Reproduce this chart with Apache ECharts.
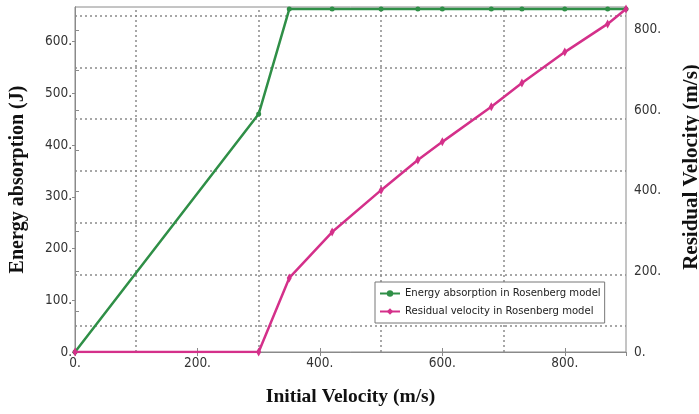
<!DOCTYPE html>
<html>
<head>
<meta charset="utf-8">
<script src="https://cdn.jsdelivr.net/npm/echarts@6/dist/echarts.min.js"></script>
<style>
  html, body { margin: 0; padding: 0; background: #fff; }
  #chart { width: 699px; height: 414px; }
</style>
</head>
<body>
<div id="chart"></div>
<script>
// 数据
var velocity = [0, 300, 350, 420, 500, 560, 600, 680, 730, 800, 870, 900];
var energy = [0, 460, 663, 663, 663, 663, 663, 663, 663, 663, 663, 663];
var residual = [0, 0, 184, 298, 402, 477, 522, 609, 668, 745, 815, 852];
var gridX = [100, 300, 500, 700];
var gridY = [50, 150, 250, 350, 450, 550, 650];

(function () {
    var myChart = echarts.init(document.getElementById("chart"));

    var tickFont = "'Liberation Sans Narrow', 'DejaVu Sans Condensed', sans-serif";
    var titleFont = "'Liberation Serif', 'DejaVu Serif', serif";
    var dotted = { color: "#8a8a8a", width: 1.5, type: [2, 3] };

    var markLines = [];
    gridX.forEach(function (v) { markLines.push({ xAxis: v }); });
    gridY.forEach(function (v) { markLines.push({ yAxis: v }); });

    var option = {
        animation: false,
        color: ["#2f8f47", "#d4308a"],
        grid: {
            left: 75, right: 73, top: 7, bottom: 62,
            outerBoundsMode: "none",
            containLabel: false,
            show: true, borderColor: "#8a8a8a", borderWidth: 1
        },
        // 右侧轴标题
        graphic: [
            {
                type: "text",
                x: 692, y: 167,
                rotation: Math.PI / 2,
                style: {
                    text: "Residual Velocity (m/s)",
                    font: "bold 21px " + titleFont,
                    fill: "#111",
                    align: "center",
                    verticalAlign: "middle"
                }
            }
        ],
        legend: {
            orient: "vertical",
            left: 375, top: 282,
            backgroundColor: "#fff",
            borderColor: "#777",
            borderWidth: 1,
            padding: [6, 4, 6, 4],
            itemWidth: 20, itemHeight: 8, itemGap: 7,
            textStyle: { fontFamily: tickFont, fontSize: 11.2, color: "#222" },
            data: ["Energy absorption in Rosenberg model", "Residual velocity in Rosenberg model"]
        },
        xAxis: [
            {
                type: "value", min: 0, max: 900, interval: 200,
                name: "Initial Velocity (m/s)",
                nameLocation: "middle", nameGap: 35,
                nameTextStyle: { fontFamily: titleFont, fontWeight: "bold", fontSize: 19.5, color: "#111" },
                axisLine: { show: true, lineStyle: { color: "#8a8a8a" } },
                axisTick: { show: true, inside: true, length: 4, lineStyle: { color: "#8a8a8a" } },
                axisLabel: {
                    showMaxLabel: false, margin: 4,
                    fontFamily: tickFont, fontSize: 13.5, color: "#333",
                    formatter: function (v) { return v + "."; }
                },
                splitLine: { show: false }
            },
            {
                type: "value", min: 0, max: 900, interval: 200, position: "top",
                axisLine: { show: true, lineStyle: { color: "#8a8a8a" } },
                axisTick: { show: true, inside: true, length: 4, lineStyle: { color: "#8a8a8a" } },
                axisLabel: { show: false },
                splitLine: { show: false }
            }
        ],
        yAxis: [
            {
                type: "value", min: 0, max: 667, interval: 100, position: "left",
                name: "Energy absorption (J)",
                nameLocation: "middle", nameGap: 47, nameRotate: 90,
                nameTextStyle: { fontFamily: titleFont, fontWeight: "bold", fontSize: 20, color: "#111" },
                axisLine: { show: true, lineStyle: { color: "#8a8a8a" } },
                axisTick: { show: true, length: 3, lineStyle: { color: "#8a8a8a" } },
                axisLabel: {
                    showMaxLabel: false, margin: 3,
                    fontFamily: tickFont, fontSize: 13.5, color: "#333",
                    formatter: function (v) { return v + "."; }
                },
                splitLine: { show: false }
            },
            {
                type: "value", min: 0, max: 857, interval: 100, position: "right",
                axisLine: { show: true, lineStyle: { color: "#8a8a8a" } },
                axisTick: { show: true, length: 4, lineStyle: { color: "#8a8a8a" } },
                axisLabel: {
                    showMaxLabel: false, margin: 8,
                    fontFamily: tickFont, fontSize: 13.5, color: "#333",
                    formatter: function (v) { return v % 200 === 0 ? v + "." : ""; }
                },
                splitLine: { show: false }
            }
        ],
        series: [
            {
                name: "Energy absorption in Rosenberg model",
                type: "line",
                xAxisIndex: 0, yAxisIndex: 0,
                data: velocity.map(function (v, i) { return [v, energy[i]]; }),
                symbol: "circle", symbolSize: 5,
                lineStyle: { width: 2.5 },
                z: 3,
                markLine: {
                    silent: true, symbol: "none",
                    label: { show: false },
                    lineStyle: dotted,
                    data: markLines,
                    z: 1
                }
            },
            {
                name: "Residual velocity in Rosenberg model",
                type: "line",
                xAxisIndex: 0, yAxisIndex: 1,
                data: velocity.map(function (v, i) { return [v, residual[i]]; }),
                symbol: "diamond", symbolSize: [5, 9],
                lineStyle: { width: 2.5 },
                z: 4
            }
        ]
    };

    myChart.setOption(option);
    window.addEventListener("resize", function () {
        myChart.resize();
    });
})();
</script>
</body>
</html>
